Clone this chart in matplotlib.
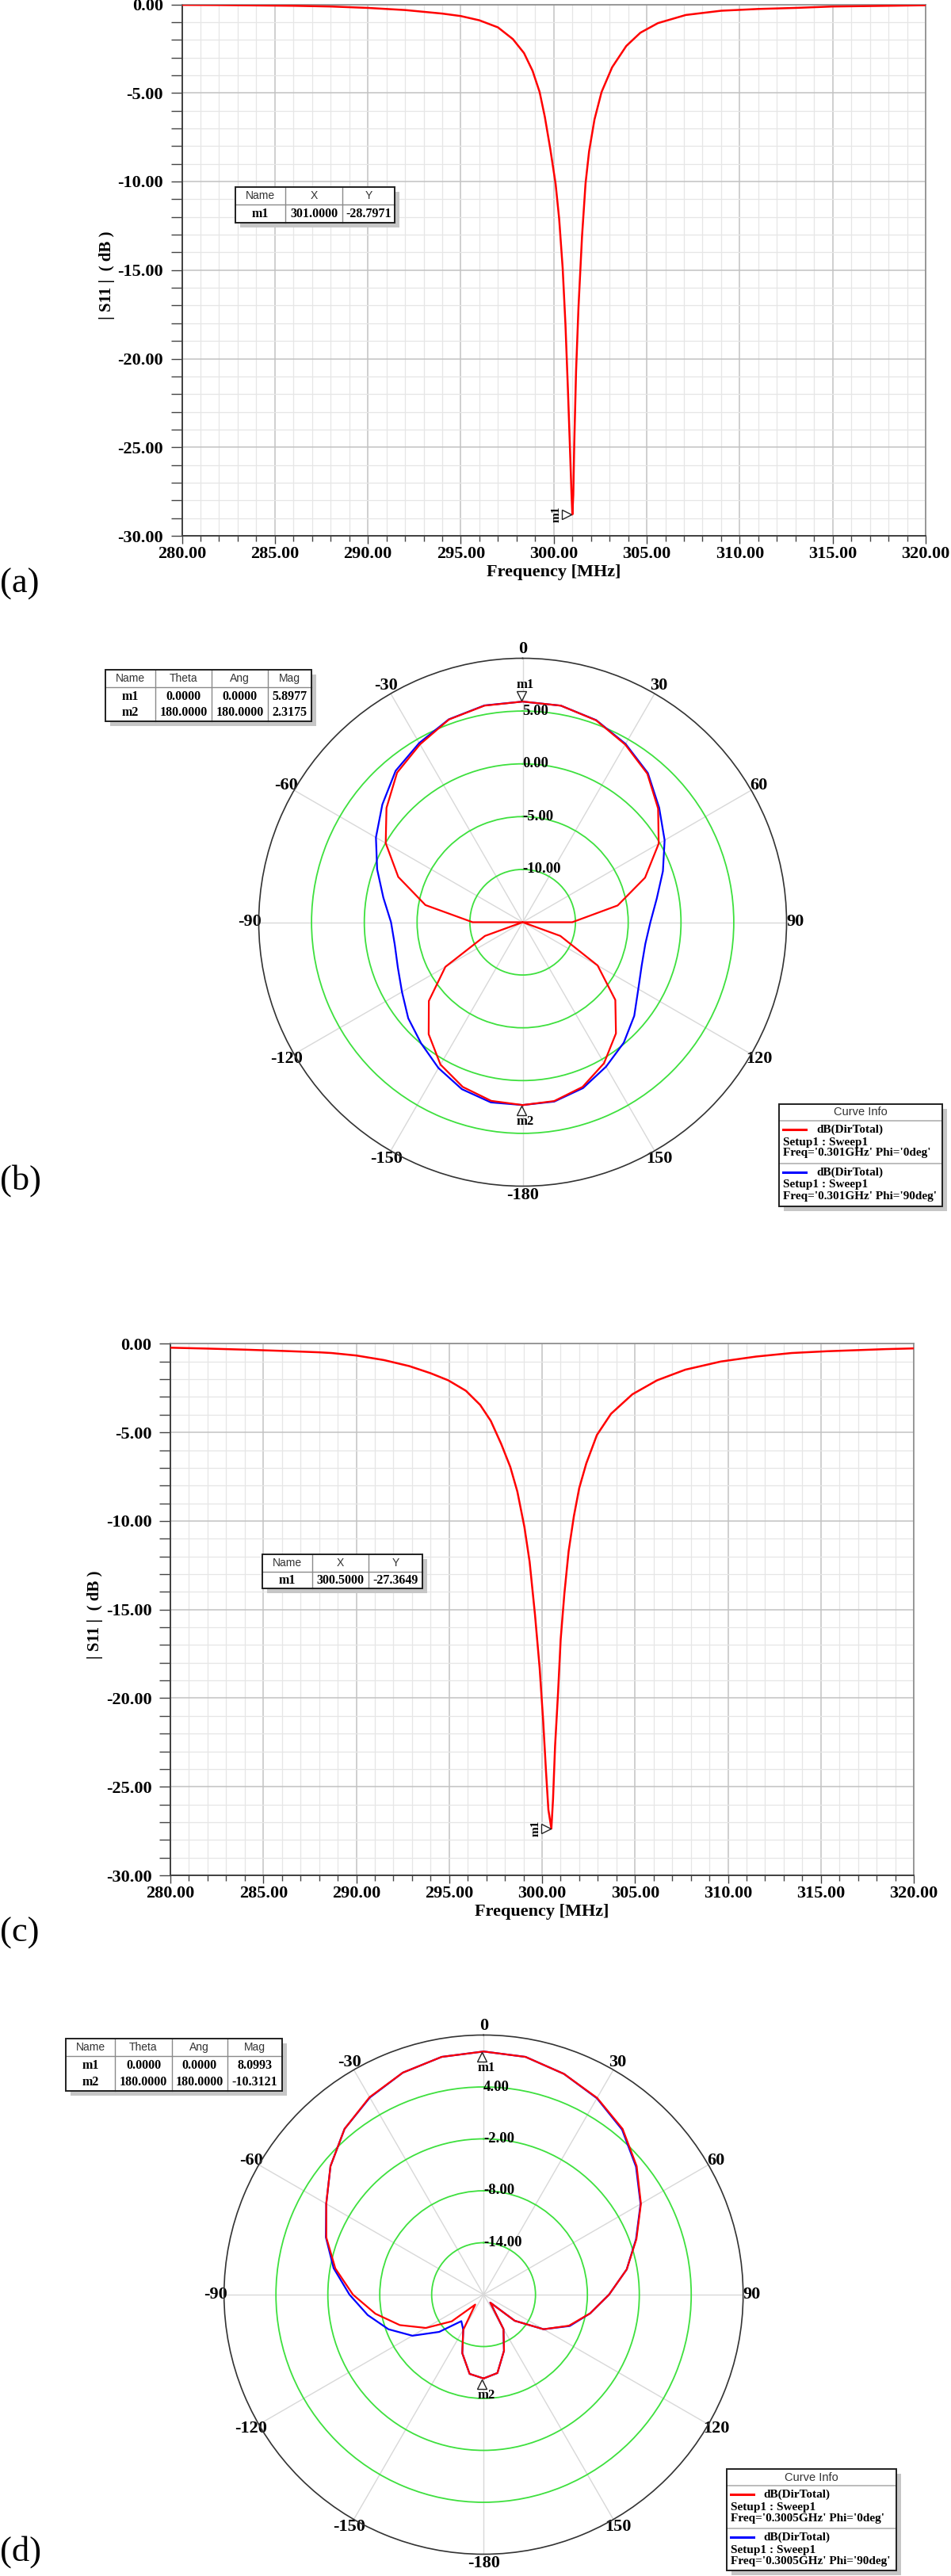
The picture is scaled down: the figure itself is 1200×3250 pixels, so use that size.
import numpy as np
import matplotlib
matplotlib.use("Agg")
import matplotlib.pyplot as plt
from matplotlib.ticker import MultipleLocator, FormatStrFormatter
from matplotlib.patches import Rectangle
from matplotlib.lines import Line2D
from matplotlib.transforms import offset_copy

plt.rcParams['font.family'] = ['Liberation Serif', 'DejaVu Serif']
plt.rcParams['font.weight'] = 'bold'
plt.rcParams['axes.labelweight'] = 'bold'

#---------------------------------------------------------------------
# data
#---------------------------------------------------------------------
# (a) |S11| (dB), resonance at 301 MHz
freq_a = [280.0, 282.0, 284.0, 286.0, 288.0, 290.0, 292.0, 294.0, 295.0, 296.0,
          297.0, 297.8, 298.4, 298.86, 299.24, 299.52, 299.81, 300.1, 300.29,
          300.48, 300.63, 300.76, 300.86, 300.95, 301.0, 301.05, 301.1, 301.2,
          301.33, 301.52, 301.71, 301.9, 302.19, 302.57, 303.14, 303.9, 304.66,
          305.6, 307.1, 309.0, 311.0, 313.0, 315.0, 318.0, 320.0]
s11_a = [-0.03, -0.04, -0.06, -0.08, -0.12, -0.2, -0.32, -0.52, -0.66, -0.9,
         -1.3, -1.96, -2.75, -3.75, -4.95, -6.35, -8.14, -10.14, -12.1,
         -14.9, -18.1, -21.7, -24.7, -27.5, -28.7971, -27.7, -24.9, -20.7,
         -17.1, -13.1, -10.1, -8.3, -6.5, -4.95, -3.55, -2.35, -1.6,
         -1.06, -0.6, -0.36, -0.26, -0.2, -0.12, -0.08, -0.05]
mark_a = ['m1', '301.0000', '-28.7971']

# (c) |S11| (dB), resonance at 300.5 MHz
freq_c = [280.0, 282.0, 284.0, 286.0, 288.0, 288.67, 290.0, 291.5, 292.86, 294.0,
          294.95, 295.9, 296.67, 297.24, 297.8, 298.29, 298.67, 299.05, 299.33,
          299.62, 299.87, 300.06, 300.21, 300.34, 300.5, 300.59, 300.7, 300.86,
          301.0, 301.2, 301.43, 301.71, 302.0, 302.38, 302.95, 303.71, 304.86,
          306.19, 307.71, 309.62, 311.52, 313.43, 315.33, 318.5, 320.0]
s11_c = [-0.22, -0.27, -0.33, -0.4, -0.48, -0.52, -0.66, -0.92, -1.26, -1.66,
         -2.06, -2.65, -3.45, -4.35, -5.65, -6.95, -8.34, -10.34, -12.3,
         -15.3, -18.3, -21.3, -24.1, -26.3, -27.3649, -25.7, -22.7, -19.7,
         -16.7, -14.1, -11.7, -9.74, -8.14, -6.75, -5.15, -3.95, -2.85,
         -2.06, -1.46, -1.0, -0.72, -0.52, -0.42, -0.3, -0.26]
mark_c = ['m1', '300.5000', '-27.3649']

# polar cuts, theta in degrees
theta = list(range(-180, 181, 10))
# (b) 0.301 GHz
dir_b_phi0 = [2.3175, 2.18, 1.6, 0.57, -1.15, -3.4, -6.55, -11.2, -15.0, -10.26,
              -5.65, -2.46, -0.02, 1.84, 3.5, 4.45, 5.43, 5.83, 5.8977,
              5.83, 5.35, 4.43, 3.37, 1.75, -0.12, -2.66, -5.86, -10.3,
              -15.0, -11.2, -6.8, -3.54, -1.25, 0.42, 1.6, 2.2, 2.3175]
dir_b_phi90 = [2.3175, 2.33, 1.83, 0.95, -0.03, -0.85, -1.8, -2.42, -2.7, -2.53,
               -1.6, -0.33, 1.05, 2.35, 3.72, 4.6, 5.45, 5.85, 5.8977,
               5.83, 5.37, 4.5, 3.45, 1.88, 0.53, -0.86, -2.1, -2.9,
               -3.2, -3.0, -2.35, -1.2, -0.1, 0.8, 1.72, 2.25, 2.3175]
mark_b = [['m1', '0.0000', '0.0000', '5.8977'],
          ['m2', '180.0000', '180.0000', '2.3175']]
rings_b = [-10, -5, 0, 5]
legend_b = ["Freq='0.301GHz' Phi='0deg'", "Freq='0.301GHz' Phi='90deg'"]

# (d) 0.3005 GHz
dir_d_phi0 = [-10.3121, -10.7, -12.8, -15.3, -18.5, -15.2, -12.3, -9.7, -7.3, -4.9,
              -2.6, -0.65, 1.0, 3.1, 5.0, 6.35, 7.3, 7.9, 8.0993,
              7.9, 7.15, 6.25, 5.0, 3.1, 1.0, -1.2, -3.2, -5.5,
              -7.5, -9.5, -12.0, -15.3, -18.8, -15.4, -13.1, -10.8, -10.3121]
dir_d_phi90 = [-10.3121, -10.7, -12.8, -15.3, -16.0, -13.3, -10.5, -8.3, -6.4, -4.5,
               -2.4, -0.6, 1.0, 3.1, 5.0, 6.3, 7.3, 7.9, 8.0993,
               7.9, 7.15, 6.2, 4.9, 3.0, 0.95, -1.25, -3.2, -5.5,
               -7.5, -9.4, -12.0, -15.3, -18.8, -15.4, -13.1, -10.8, -10.3121]
mark_d = [['m1', '0.0000', '0.0000', '8.0993'],
          ['m2', '180.0000', '180.0000', '-10.3121']]
rings_d = [-14, -8, -2, 4]
legend_d = ["Freq='0.3005GHz' Phi='0deg'", "Freq='0.3005GHz' Phi='90deg'"]

angle_labels = ['0', '30', '60', '90', '120', '150',
                '-180', '-150', '-120', '-90', '-60', '-30']

#---------------------------------------------------------------------
# figure and pixel helpers
#---------------------------------------------------------------------
W, H = 1200, 3250
fig = plt.figure(figsize=(W / 100, H / 100), dpi=100)


def fx(x):
    return x / W


def fy(y):
    return 1 - y / H


def box(x0, y0, x1, y1, **kw):
    fig.add_artist(Rectangle((fx(x0), fy(y1)), (x1 - x0) / W, (y1 - y0) / H,
                             transform=fig.transFigure, **kw))


def seg(xa, ya, xb, yb, **kw):
    fig.add_artist(Line2D([fx(xa), fx(xb)], [fy(ya), fy(yb)],
                          transform=fig.transFigure, **kw))


def marker_table(xs, ys, header, rows, rows_y):
    box(xs[0] + 6, ys[0] + 6, xs[-1] + 6, ys[-1] + 6, facecolor='#c6c6c6',
        edgecolor='none', zorder=2)
    box(xs[0], ys[0], xs[-1], ys[-1], facecolor='white', edgecolor='none', zorder=2)
    for x in xs[1:-1]:
        seg(x, ys[0], x, ys[-1], color='#8a8a8a', lw=1, zorder=3)
    seg(xs[0], ys[1], xs[-1], ys[1], color='#8a8a8a', lw=1, zorder=3)
    box(xs[0], ys[0], xs[-1], ys[-1], facecolor='none', edgecolor='#202020',
        lw=1.4, zorder=3)
    for i, h in enumerate(header):
        fig.text(fx((xs[i] + xs[i + 1]) / 2), fy((ys[0] + ys[1]) / 2), h,
                 ha='center', va='center', family='Liberation Sans',
                 weight='normal', size=10, color='#333333', zorder=4)
    for row, yc in zip(rows, rows_y):
        for i, v in enumerate(row):
            fig.text(fx((xs[i] + xs[i + 1]) / 2), fy(yc), v, ha='center',
                     va='center', size=11.5, zorder=4)


def curve_info(x0, x1, ys, labels):
    box(x0 + 6, ys[0] + 6, x1 + 6, ys[-1] + 6, facecolor='#c6c6c6',
        edgecolor='none', zorder=2)
    box(x0, ys[0], x1, ys[-1], facecolor='white', edgecolor='none', zorder=2)
    seg(x0, ys[1], x1, ys[1], color='#b0b0b0', lw=1.2, zorder=3)
    seg(x0, ys[2], x1, ys[2], color='#b0b0b0', lw=1.2, zorder=3)
    box(x0, ys[0], x1, ys[-1], facecolor='none', edgecolor='#202020',
        lw=1.4, zorder=3)
    fig.text(fx((x0 + x1) / 2), fy((ys[0] + ys[1]) / 2), 'Curve Info',
             ha='center', va='center', family='Liberation Sans',
             weight='normal', size=10.5, color='#333333', zorder=4)
    for top, col, lab in zip(ys[1:3], ['#ff0000', '#0000ff'], labels):
        seg(x0 + 5, top + 11, x0 + 34, top + 11, color=col, lw=2.2, zorder=4)
        fig.text(fx(x0 + 47), fy(top + 11), 'dB(DirTotal)', ha='left',
                 va='center', size=11, zorder=4)
        fig.text(fx(x0 + 5), fy(top + 27), 'Setup1 : Sweep1', ha='left',
                 va='center', size=11, zorder=4)
        fig.text(fx(x0 + 5), fy(top + 41), lab, ha='left', va='center',
                 size=11, zorder=4)


#---------------------------------------------------------------------
# S11 panels
#---------------------------------------------------------------------
def s11_panel(rect, f, s, mark):
    ax = fig.add_axes(rect)
    ax.plot(f, s, color='#ff0000', lw=1.8, zorder=3)
    ax.set_xlim(280, 320)
    ax.set_ylim(-30, 0)
    ax.xaxis.set_major_locator(MultipleLocator(5))
    ax.xaxis.set_minor_locator(MultipleLocator(1))
    ax.yaxis.set_major_locator(MultipleLocator(5))
    ax.yaxis.set_minor_locator(MultipleLocator(1))
    ax.xaxis.set_major_formatter(FormatStrFormatter('%.2f'))
    ax.yaxis.set_major_formatter(FormatStrFormatter('%.2f'))
    ax.grid(which='major', color='#c2c2c2', lw=1.1)
    ax.grid(which='minor', color='#e6e6e6', lw=0.9)
    ax.set_axisbelow(True)
    ax.tick_params(axis='y', which='both', direction='out', length=10,
                   width=1, color='#444444', pad=7, labelsize=16)
    ax.tick_params(axis='x', which='major', direction='out', length=7,
                   width=1, color='#444444', pad=2, labelsize=16)
    ax.tick_params(axis='x', which='minor', direction='out', length=5,
                   width=1, color='#444444')
    for side in ['left', 'bottom']:
        ax.spines[side].set_color('#404040')
        ax.spines[side].set_linewidth(1.4)
    for side in ['top', 'right']:
        ax.spines[side].set_color('#8a8a8a')
        ax.spines[side].set_linewidth(1.2)
    ax.set_xlabel('Frequency [MHz]', size=16)
    ax.xaxis.label.set_va('center')
    ax.xaxis.set_label_coords(0.5, -0.069)
    ax.set_ylabel('| S11 |  ( dB )', size=15)
    ax.yaxis.label.set_va('center')
    ax.yaxis.set_label_coords(-0.101, 0.49)
    mx, my = float(mark[1]), float(mark[2])
    tri = offset_copy(ax.transData, fig=fig, x=-7, y=0, units='dots')
    ax.plot([mx], [my], marker='>', ms=8, mfc='white', mec='#222222',
            mew=1, transform=tri, clip_on=False, zorder=4)
    ax.annotate(mark[0], (mx, my), xytext=(-20, 0), textcoords='offset pixels',
                rotation=90, ha='center', va='center', size=11)
    return ax


s11_panel([fx(229.5), fy(676), 938.5 / W, 670.5 / H], freq_a, s11_a, mark_a)
s11_panel([fx(215), fy(2366), 938 / W, 670.6 / H], freq_c, s11_c, mark_c)


#---------------------------------------------------------------------
# radiation pattern panels
#---------------------------------------------------------------------
def polar_panel(rect, rmin, rings, g0, g90, marks, m1_up):
    ax = fig.add_axes(rect, projection='polar')
    ax.set_theta_zero_location('N')
    ax.set_theta_direction(-1)
    th = np.deg2rad(theta)
    ax.plot(th, g90, color='#0000ff', lw=1.6, zorder=3)
    ax.plot(th, g0, color='#ff0000', lw=1.6, zorder=4)
    ax.set_rlim(rmin, 10)
    ax.set_rticks(rings)
    ax.set_yticklabels([])
    ax.set_thetagrids(np.arange(0, 360, 30), labels=angle_labels)
    ax.set_xticks(np.deg2rad(np.arange(0, 360, 5)), minor=True)
    ax.tick_params(axis='x', which='major', labelsize=16, pad=1,
                   direction='in', length=11, color='#333333')
    ax.tick_params(axis='x', which='minor', direction='in', length=6,
                   color='#333333')
    ax.xaxis.grid(True, color='#d8d8d8', lw=1)
    ax.yaxis.grid(True, color='#3ee03e', lw=1.3)
    ax.spines['polar'].set_color('#333333')
    ax.spines['polar'].set_linewidth(1.2)
    for r in rings:
        ax.text(0.0, r, '%.2f' % r, ha='left', va='center', size=13.5, zorder=5)
    # markers m1 (0 deg) and m2 (180 deg)
    for (name, t, ang, mag), up in zip(marks, [m1_up, False]):
        a = np.deg2rad(float(ang))
        sgn = 1 if up else -1
        tri = offset_copy(ax.transData, fig=fig, x=-2, y=sgn * 7, units='dots')
        ax.plot([a], [float(mag)], marker='v' if up else '^', ms=8,
                mfc='white', mec='#222222', mew=1, transform=tri,
                clip_on=False, zorder=6)
        ax.annotate(name, (a, float(mag)), xytext=(3, sgn * 21),
                    textcoords='offset pixels', ha='center', va='center',
                    size=12, zorder=6)
    return ax


polar_panel([fx(326.5), fy(1496.5), 666 / W, 666 / H], -15, rings_b,
            dir_b_phi0, dir_b_phi90, mark_b, True)
polar_panel([fx(282.7), fy(3222.5), 655 / W, 655 / H], -20, rings_d,
            dir_d_phi0, dir_d_phi90, mark_d, False)

#---------------------------------------------------------------------
# marker tables and curve info boxes
#---------------------------------------------------------------------
marker_table([297, 360, 432, 498], [236, 258, 281], ['Name', 'X', 'Y'],
             [mark_a], [269.5])
marker_table([330.5, 394, 465, 533], [1961, 1982.6, 2004.4], ['Name', 'X', 'Y'],
             [mark_c], [1993.5])
marker_table([133, 196, 267.3, 338.3, 393.3], [845, 866.7, 910],
             ['Name', 'Theta', 'Ang', 'Mag'], mark_b, [879, 899])
marker_table([82.6, 145.4, 216.5, 287, 355.8], [2572.3, 2594.4, 2638.2],
             ['Name', 'Theta', 'Ang', 'Mag'], mark_d, [2606, 2627])

curve_info(983, 1189, [1393, 1414, 1468, 1522], legend_b)
curve_info(916.6, 1131, [3115, 3136, 3190, 3243], legend_d)

# panel letters
for lab, yc in zip(['(a)', '(b)', '(c)', '(d)'], [737, 1490, 2439, 3220]):
    fig.text(fx(0), fy(yc), lab, ha='left', va='center', size=32, weight='normal')

plt.savefig('out.png', dpi=100)
